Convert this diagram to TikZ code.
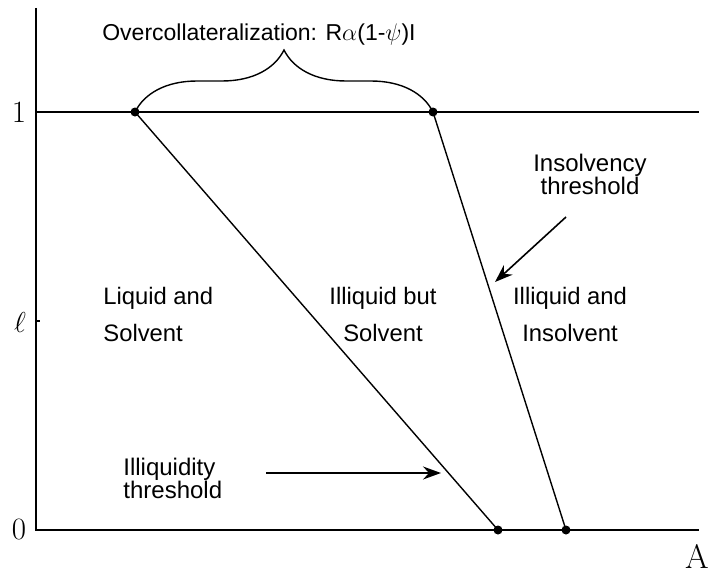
\documentclass[tikz,border=0pt]{standalone}
\usepackage{amsmath}
\usepackage{fontspec}
\newfontfamily\labelfont{Liberation Sans}
\usetikzlibrary{arrows.meta,calc,decorations.pathreplacing,positioning}
\tikzset{%
	region/.style    = {font=\labelfont\fontsize{11.9}{18.5}\selectfont, inner sep=0pt, align=center},
	thrlabel/.style  = {font=\labelfont\fontsize{12}{11.5}\selectfont, inner sep=0pt},
	axislabel/.style = {font=\fontsize{15.5}{17}\selectfont, inner sep=0pt},
	curve/.style     = {line width=0.7pt},
	pointer/.style   = {line width=0.8pt,-{Stealth[length=9pt,width=6.5pt,inset=3pt]}},
	dot/.style       = {circle, fill, inner sep=0pt, minimum size=4.5pt},
}
\begin{document}
\begin{tikzpicture}[x=0.5pt,y=-0.5pt]
		\useasboundingbox (0,0) rectangle (709,573);
		\coordinate (O) at (36,530);
		\coordinate (ytop) at (36,8);
		\coordinate (xend) at (699,530);
		\coordinate (onel) at (36,112);
		\coordinate (oner) at (699,112);
		\coordinate (ellt) at (36,321);
		\draw[curve] (ytop) -- (O) -- (xend);  % axes
		\draw[curve] (onel) -- (oner);  % level 1
		\draw[curve] (ellt) -- ++(4,0);
		\node[axislabel] (one) at (19,112) {1};
		\node[axislabel] (ell) at (20,323) {$\ell$};
		\node[axislabel] (zero) at (19,530) {0};
		\node[axislabel, font=\fontsize{17}{19}\selectfont] (alab) at (697,556) {A};
		% thresholds
		\node[dot] (a1) at (135,112) {};
		\node[dot] (b1) at (433,112) {};
		\node[dot] (a0) at (498,530) {};
		\node[dot] (b0) at (566,530) {};
		\draw[curve] (a1.center) -- (a0.center);
		\draw[curve] (b1.center) -- (b0.center);
		\draw[curve, decorate, decoration={brace, amplitude=31pt}] (a1.center) -- (b1.center);
		\node[region, font=\labelfont\fontsize{11.5}{13}\selectfont] (overcoll) at (259,35) {Overcollateralization: R$\alpha$(1-$\psi$)I};
		% regions
		\node[region, align=left, anchor=west] (liq) at (103,314) {Liquid and\\Solvent};
		\node[region] (illbut) at (383,314) {Illiquid but\\Solvent};
		\node[region] (illand) at (570,314) {Illiquid and\\Insolvent};
		% threshold labels
		\node[thrlabel, align=center] (insthr) at (590,174) {Insolvency\\threshold};
		\coordinate (insfrom) at (566,217);
		\coordinate (insto) at (495,282);
		\draw[pointer] (insfrom) -- (insto);
		\node[thrlabel, align=left, anchor=west] (illthr) at (123,478) {Illiquidity\\threshold};
		\coordinate (illfrom) at (266,473);
		\coordinate (illto) at (441,473);
		\draw[pointer] (illfrom) -- (illto);
		\end{tikzpicture}
\end{document}
